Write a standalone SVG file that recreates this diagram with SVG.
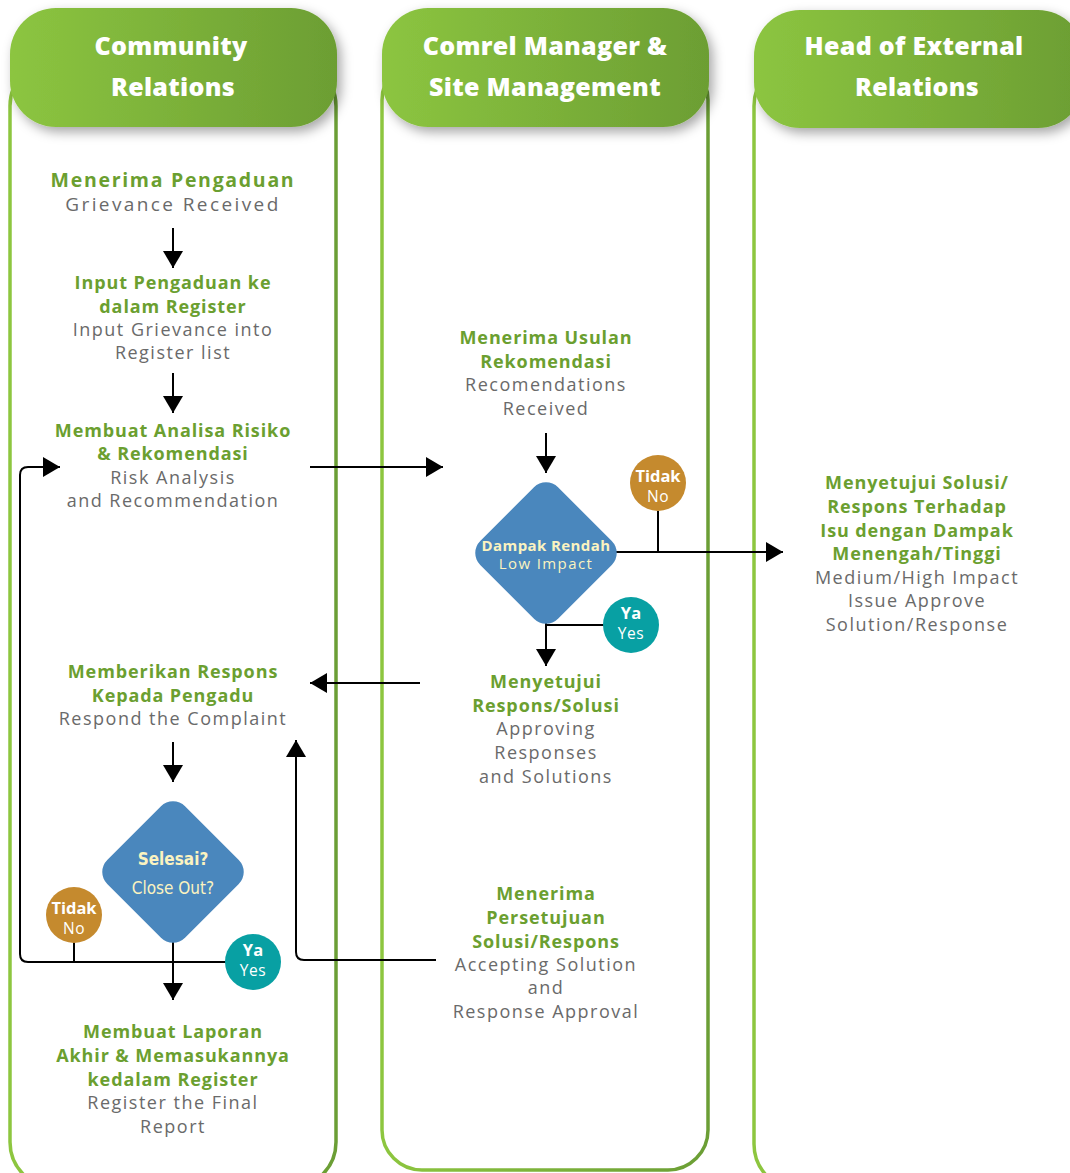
<svg xmlns="http://www.w3.org/2000/svg" width="1070" height="1173" viewBox="0 0 1070 1173">
  <defs>
    <linearGradient id="hdr" x1="0" y1="0" x2="1" y2="0">
      <stop offset="0" stop-color="#8cc540"/>
      <stop offset="1" stop-color="#6c9e33"/>
    </linearGradient>
    <linearGradient id="lane" x1="0" y1="0" x2="1" y2="0">
      <stop offset="0" stop-color="#8dc63f"/>
      <stop offset="1" stop-color="#6b9e35"/>
    </linearGradient>
    <filter id="sh" x="-10%" y="-20%" width="125%" height="150%">
      <feDropShadow dx="4" dy="5" stdDeviation="6" flood-color="#000" flood-opacity="0.35"/>
    </filter>
    <marker id="ah" viewBox="0 0 17 20" refX="17" refY="10" markerWidth="17" markerHeight="20" markerUnits="userSpaceOnUse" orient="auto">
      <path d="M0,0 L17,10 L0,20 z" fill="#000"/>
    </marker>
    <style>
      .lane{fill:none;stroke:url(#lane);stroke-width:3.5}
      .hd{fill:url(#hdr);filter:url(#sh)}
      .ht{font-family:"Open Sans","Liberation Sans",sans-serif;font-weight:800;font-size:25px;fill:#fff;text-anchor:middle;letter-spacing:0.3px}
      .g{font-family:"Open Sans","Liberation Sans",sans-serif;font-weight:700;font-size:18px;fill:#6b9f30;text-anchor:middle;letter-spacing:0.9px}
      .t{font-family:"Open Sans","Liberation Sans",sans-serif;font-weight:400;font-size:18px;fill:#6a6a6a;text-anchor:middle;letter-spacing:1.5px}
      .g1{font-size:19.5px;letter-spacing:1.7px}
      .t1{font-size:19px;letter-spacing:2.4px}
      .cn{stroke:#000;stroke-width:2;fill:none}
      .ar{marker-end:url(#ah)}
      .dia{fill:#4a87bd}
      .db{font-family:"Open Sans","Liberation Sans",sans-serif;font-weight:700;font-size:15px;fill:#fbf3c0;text-anchor:middle;letter-spacing:0.4px}
      .dl{font-family:"Open Sans","Liberation Sans",sans-serif;font-weight:400;font-size:15px;fill:#fbf3c0;text-anchor:middle;letter-spacing:1.4px}
      .cb{font-family:"DejaVu Sans Condensed","DejaVu Sans",sans-serif;font-weight:700;font-size:17px;fill:#fbf3c0;text-anchor:middle}
      .cl{font-family:"DejaVu Sans Condensed","DejaVu Sans",sans-serif;font-weight:400;font-size:17px;fill:#fbf3c0;text-anchor:middle}
      .no{fill:#c58a2e}
      .ya{fill:#08a0a3}
      .ct{font-family:"Open Sans","Liberation Sans",sans-serif;font-weight:700;font-size:16.5px;fill:#fff;text-anchor:middle}
      .cs{font-family:"Open Sans","Liberation Sans",sans-serif;font-weight:400;font-size:15.5px;fill:#fff;text-anchor:middle;letter-spacing:0.5px}
    </style>
  </defs>
  <rect width="1070" height="1173" fill="#fff"/>

  <!-- Lanes -->
  <g id="lane-community">
    <rect class="lane" x="10" y="60" width="326" height="1128" rx="46"/>
    <rect class="hd" x="10" y="8" width="327" height="119" rx="46"/>
    <text class="ht" x="171" y="55">Community</text>
    <text class="ht" x="173" y="96">Relations</text>
  </g>
  <g id="lane-comrel">
    <rect class="lane" x="382" y="60" width="326" height="1110" rx="40"/>
    <rect class="hd" x="382" y="8" width="327" height="119" rx="46"/>
    <text class="ht" x="545" y="55">Comrel Manager &amp;</text>
    <text class="ht" x="545" y="96">Site Management</text>
  </g>
  <g id="lane-head">
    <rect class="lane" x="754" y="60" width="340" height="1130" rx="46"/>
    <rect class="hd" x="754" y="10" width="330" height="118" rx="46"/>
    <text class="ht" x="914" y="55">Head of External</text>
    <text class="ht" x="917" y="96">Relations</text>
  </g>

  <!-- Connectors -->
  <g id="connectors">
    <path class="cn ar" d="M173 228 V268"/>
    <path class="cn ar" d="M173 373 V413"/>
    <path class="cn ar" d="M310 467 H443"/>
    <path class="cn ar" d="M546 433 V473"/>
    <path class="cn" d="M658 511 V552"/>
    <path class="cn ar" d="M612 552 H783"/>
    <path class="cn" d="M546 620 V625 H605"/>
    <path class="cn ar" d="M546 625 V666"/>
    <path class="cn ar" d="M420 683 H310"/>
    <path class="cn ar" d="M173 742 V782"/>
    <path class="cn" d="M74 940 V962"/>
    <path class="cn" d="M228 962 H28 Q20 962 20 954 V475 Q20 467 28 467 H40"/>
    <path class="cn ar" d="M38 467 H60"/>
    <path class="cn ar" d="M173 940 V1000"/>
    <path class="cn" d="M436 960 H304 Q296 960 296 952 V760"/>
    <path class="cn ar" d="M296 770 V740"/>
  </g>

  <!-- Nodes -->
  <g id="n-grievance-received">
    <text class="g g1" x="173" y="187">Menerima Pengaduan</text>
    <text class="t t1" x="173" y="211">Grievance Received</text>
  </g>
  <g id="n-input-register">
    <text class="g" x="173" y="289">Input Pengaduan ke</text>
    <text class="g" x="173" y="313">dalam Register</text>
    <text class="t" x="173" y="336">Input Grievance into</text>
    <text class="t" x="173" y="359">Register list</text>
  </g>
  <g id="n-risk-analysis">
    <text class="g" x="173" y="437">Membuat Analisa Risiko</text>
    <text class="g" x="173" y="460">&amp; Rekomendasi</text>
    <text class="t" x="173" y="484">Risk Analysis</text>
    <text class="t" x="173" y="507">and Recommendation</text>
  </g>
  <g id="n-recommendation-received">
    <text class="g" x="546" y="344">Menerima Usulan</text>
    <text class="g" x="546" y="368">Rekomendasi</text>
    <text class="t" x="546" y="391">Recomendations</text>
    <text class="t" x="546" y="415">Received</text>
  </g>
  <g id="n-low-impact">
    <rect class="dia" x="-55" y="-55" width="110" height="110" rx="17" transform="translate(546 553) rotate(45)"/>
    <text class="db" x="546" y="551">Dampak Rendah</text>
    <text class="dl" x="546" y="569">Low Impact</text>
  </g>
  <g id="n-low-no">
    <circle class="no" cx="658" cy="483" r="28"/>
    <text class="ct" x="658" y="482">Tidak</text>
    <text class="cs" x="658" y="502">No</text>
  </g>
  <g id="n-low-yes">
    <circle class="ya" cx="631" cy="625" r="28"/>
    <text class="ct" x="631" y="619">Ya</text>
    <text class="cs" x="631" y="639">Yes</text>
  </g>
  <g id="n-high-impact">
    <text class="g" x="917" y="489">Menyetujui Solusi/</text>
    <text class="g" x="917" y="513">Respons Terhadap</text>
    <text class="g" x="917" y="537">Isu dengan Dampak</text>
    <text class="g" x="917" y="560">Menengah/Tinggi</text>
    <text class="t" x="917" y="584">Medium/High Impact</text>
    <text class="t" x="917" y="607">Issue Approve</text>
    <text class="t" x="917" y="631">Solution/Response</text>
  </g>
  <g id="n-approving">
    <text class="g" x="546" y="688">Menyetujui</text>
    <text class="g" x="546" y="712">Respons/Solusi</text>
    <text class="t" x="546" y="735">Approving</text>
    <text class="t" x="546" y="759">Responses</text>
    <text class="t" x="546" y="783">and Solutions</text>
  </g>
  <g id="n-respond">
    <text class="g" x="173" y="678">Memberikan Respons</text>
    <text class="g" x="173" y="702">Kepada Pengadu</text>
    <text class="t" x="173" y="725">Respond the Complaint</text>
  </g>
  <g id="n-close-out">
    <rect class="dia" x="-55" y="-55" width="110" height="110" rx="17" transform="translate(173 872) rotate(45)"/>
    <text class="cb" x="173" y="865">Selesai?</text>
    <text class="cl" x="173" y="894">Close Out?</text>
  </g>
  <g id="n-close-no">
    <circle class="no" cx="74" cy="915" r="28"/>
    <text class="ct" x="74" y="914">Tidak</text>
    <text class="cs" x="74" y="934">No</text>
  </g>
  <g id="n-close-yes">
    <circle class="ya" cx="253" cy="962" r="28"/>
    <text class="ct" x="253" y="956">Ya</text>
    <text class="cs" x="253" y="976">Yes</text>
  </g>
  <g id="n-accepting">
    <text class="g" x="546" y="900">Menerima</text>
    <text class="g" x="546" y="924">Persetujuan</text>
    <text class="g" x="546" y="948">Solusi/Respons</text>
    <text class="t" x="546" y="971">Accepting Solution</text>
    <text class="t" x="546" y="994">and</text>
    <text class="t" x="546" y="1018">Response Approval</text>
  </g>
  <g id="n-final-report">
    <text class="g" x="173" y="1038">Membuat Laporan</text>
    <text class="g" x="173" y="1062">Akhir &amp; Memasukannya</text>
    <text class="g" x="173" y="1086">kedalam Register</text>
    <text class="t" x="173" y="1109">Register the Final</text>
    <text class="t" x="173" y="1133">Report</text>
  </g>
</svg>
